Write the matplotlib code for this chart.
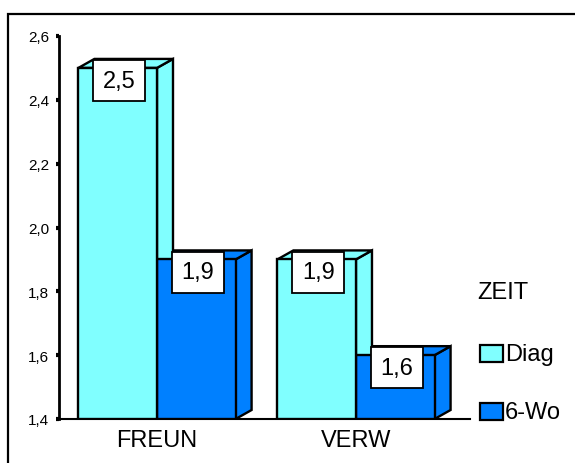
import matplotlib.pyplot as plt
from matplotlib.patches import Polygon, Rectangle
import numpy as np

plt.rcParams['font.family'] = ['Liberation Sans', 'DejaVu Sans']

categories = ["FREUN", "VERW"]
series_names = ["Diag", "6-Wo"]
diag_vals = [2.5, 1.9]
wo6_vals = [1.9, 1.6]
yticks = [1.4, 1.6, 1.8, 2.0, 2.2, 2.4, 2.6]

colors = ['#80FFFF', '#0080FF']
W, H = 575, 464

fig = plt.figure(figsize=(5.75, 4.64), dpi=100)
# outer frame (only top/left visible)
fig.patches.append(Rectangle((8 / W, -0.1), 1.0, 1 - 15 / H + 0.1, transform=fig.transFigure,
                             fill=False, edgecolor='black', linewidth=1.6))

ax = fig.add_axes([59 / W, (H - 420) / H, (470 - 59) / W, (420 - 37) / H])
ymin, ymax = 1.4, 2.6
ax.set_ylim(ymin, ymax)
ax.set_xlim(-0.4925, 1.573)

bw = 0.395
dx = 16 / 199
dy = 9 / 383 * (ymax - ymin)

def bar3d(x0, val, col):
    # x0 = left edge of front face
    front = Rectangle((x0, ymin), bw, val - ymin, facecolor=col, edgecolor='black', lw=1.7, zorder=3)
    top = Polygon([(x0, val), (x0 + dx, val + dy), (x0 + bw + dx, val + dy), (x0 + bw, val)],
                  facecolor=col, edgecolor='black', lw=1.7, zorder=2)
    side = Polygon([(x0 + bw, ymin), (x0 + bw + dx, ymin + dy), (x0 + bw + dx, val + dy), (x0 + bw, val)],
                   facecolor=col, edgecolor='black', lw=1.7, zorder=2)
    for p in (side, top, front):
        ax.add_patch(p)
    ax.text(x0 + bw / 2 + 0.008, val - 0.04, f"{val:.1f}".replace('.', ','), ha='center', va='center',
            fontsize=17, zorder=5,
            bbox=dict(boxstyle='square,pad=0.4', facecolor='white', edgecolor='black', lw=1.3))

xs = np.arange(len(categories))
# draw back bars first so front ones overlap properly
for i in xs:
    bar3d(i, wo6_vals[i], colors[1])
    bar3d(i - bw, diag_vals[i], colors[0])

ax.set_xticks(xs)
ax.set_xticklabels(categories, fontsize=17)
ax.tick_params(axis='x', length=0, pad=7)
ax.set_yticks(yticks)
ax.set_yticklabels([f"{v:.1f}".replace('.', ',') for v in yticks], fontsize=11)
ax.tick_params(axis='y', length=2, width=3, direction='out', pad=5)

for s in ('top', 'right'):
    ax.spines[s].set_visible(False)
ax.spines['left'].set_linewidth(2)
ax.spines['bottom'].set_linewidth(1.5)

# legend
fig.text(477 / W, 1 - 293 / H, "ZEIT", fontsize=17, ha='left', va='center')
for k, (name, yc) in enumerate(zip(series_names, [355, 413])):
    fig.patches.append(Rectangle((480 / W, 1 - (yc + 8) / H), 23 / W, 17 / H, transform=fig.transFigure,
                                 facecolor=colors[k], edgecolor='black', lw=1.6))
    fig.text(505 / W, 1 - yc / H, name, fontsize=17, ha='left', va='center')

fig.savefig("out.png", dpi=100)
